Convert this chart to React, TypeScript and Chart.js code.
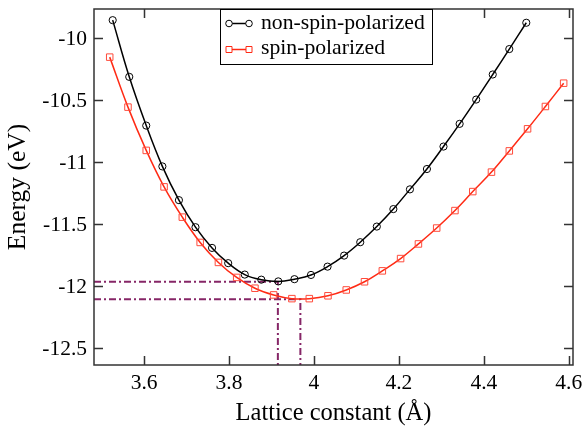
import React, { useEffect, useRef } from "react";
import { Chart, registerables } from "chart.js";

Chart.register(...registerables);

// ---- data ----
const nspX = [3.526, 3.565, 3.605, 3.643, 3.682, 3.721, 3.760, 3.798, 3.837, 3.876, 3.916, 3.954, 3.993, 4.032, 4.071, 4.109, 4.148, 4.187, 4.226, 4.266, 4.305, 4.343, 4.382, 4.421, 4.460, 4.500];
const nspE = [-9.860, -10.317, -10.710, -11.039, -11.311, -11.529, -11.696, -11.819, -11.911, -11.952, -11.966, -11.948, -11.914, -11.847, -11.758, -11.650, -11.524, -11.383, -11.224, -11.060, -10.879, -10.696, -10.500, -10.298, -10.093, -9.881];
const spX = [3.519, 3.562, 3.605, 3.647, 3.690, 3.732, 3.775, 3.818, 3.861, 3.905, 3.948, 3.989, 4.033, 4.076, 4.119, 4.161, 4.204, 4.246, 4.289, 4.332, 4.374, 4.418, 4.460, 4.503, 4.545, 4.588];
const spE = [-10.158, -10.561, -10.910, -11.204, -11.448, -11.652, -11.813, -11.934, -12.021, -12.075, -12.105, -12.105, -12.082, -12.035, -11.969, -11.881, -11.782, -11.664, -11.536, -11.395, -11.242, -11.085, -10.914, -10.736, -10.556, -10.368];

// equilibrium markers (lattice constant, energy)
const nspMin = [3.915, -11.969];
const spMin = [3.968, -12.11];

const xTicks = [3.6, 3.8, 4, 4.2, 4.4, 4.6];
const yTicks = [-12.5, -12, -11.5, -11, -10.5, -10];
const xRange = [3.482, 4.61];
const yRange = [-12.64, -9.77];

const seriesLabels = ["non-spin-polarized", "spin-polarized"];
const xTitle = "Lattice constant (Å)";
const yTitle = "Energy (eV)";

const SERIF = '"Liberation Serif", "Times New Roman", serif';
const RED = "#ff2a14";
const PURPLE = "#862667";

const framePlugin = {
  id: "frameAndLegend",
  afterDatasetsDraw(chart: any) {
    const { ctx, chartArea, scales } = chart;
    const { left, right, top, bottom } = chartArea;
    const xs = scales.x;
    const ys = scales.y;
    ctx.save();
    // frame
    ctx.strokeStyle = "#333";
    ctx.lineWidth = 1.5;
    ctx.strokeRect(left, top, right - left, bottom - top);
    // inward ticks on all four sides
    const L = 9;
    ctx.beginPath();
    xTicks.forEach((v) => {
      const px = Math.round(xs.getPixelForValue(v)) + 0.5;
      ctx.moveTo(px, bottom);
      ctx.lineTo(px, bottom - L);
      ctx.moveTo(px, top);
      ctx.lineTo(px, top + L);
    });
    yTicks.forEach((v) => {
      const py = Math.round(ys.getPixelForValue(v)) + 0.5;
      ctx.moveTo(left, py);
      ctx.lineTo(left + L, py);
      ctx.moveTo(right, py);
      ctx.lineTo(right - L, py);
    });
    ctx.stroke();

    // legend box
    const bx = 220, by = top, bw = 212, bh = 55;
    ctx.fillStyle = "#fff";
    ctx.fillRect(bx, by, bw, bh);
    ctx.strokeStyle = "#000";
    ctx.lineWidth = 1;
    ctx.strokeRect(bx + 0.5, by + 0.5, bw, bh);

    const rows = [
      { y: 23.5, base: 28.7, color: "#000", style: "circle" },
      { y: 49.5, base: 54, color: RED, style: "rect" },
    ];
    rows.forEach((r, i) => {
      const x1 = 229, x2 = 249;
      ctx.strokeStyle = r.color;
      ctx.lineWidth = 1.5;
      ctx.beginPath();
      ctx.moveTo(x1, r.y);
      ctx.lineTo(x2, r.y);
      ctx.stroke();
      ctx.lineWidth = 1;
      [x1, x2].forEach((cx) => {
        ctx.beginPath();
        ctx.fillStyle = "#fff";
        if (r.style === "circle") {
          ctx.arc(cx, r.y, 3.3, 0, Math.PI * 2);
        } else {
          ctx.rect(cx - 3, r.y - 3, 6, 6);
        }
        ctx.fill();
        ctx.stroke();
      });
      ctx.fillStyle = "#000";
      ctx.font = `21.7px ${SERIF}`;
      ctx.textAlign = "left";
      ctx.textBaseline = "alphabetic";
      ctx.fillText(seriesLabels[i], 261, r.base);
    });
    ctx.restore();
  },
};

export default function App() {
  const ref = useRef<HTMLCanvasElement | null>(null);
  useEffect(() => {
    if (!ref.current) return;
    const chart = new Chart(ref.current, {
      type: "line",
      data: {
        datasets: [
          {
            label: seriesLabels[0],
            data: nspX.map((x, i) => ({ x, y: nspE[i] })),
            borderColor: "#000",
            borderWidth: 1.5,
            pointStyle: "circle",
            pointRadius: 3.6,
            pointBorderWidth: 1,
            pointBorderColor: "#000",
            pointBackgroundColor: "rgba(0,0,0,0)",
            tension: 0.4,
          },
          {
            label: seriesLabels[1],
            data: spX.map((x, i) => ({ x, y: spE[i] })),
            borderColor: RED,
            borderWidth: 1.5,
            pointStyle: "rect",
            pointRadius: 4.6,
            pointBorderWidth: 1,
            pointBorderColor: "#ff4a3a",
            pointBackgroundColor: "rgba(0,0,0,0)",
            tension: 0.4,
          },
          {
            label: "nsp-eq",
            data: [
              { x: xRange[0], y: nspMin[1] },
              { x: nspMin[0], y: nspMin[1] },
              { x: nspMin[0], y: yRange[0] },
            ],
            borderColor: PURPLE,
            borderWidth: 2,
            borderDash: [7, 3, 2, 3],
            pointRadius: 0,
            tension: 0,
          },
          {
            label: "sp-eq",
            data: [
              { x: xRange[0], y: spMin[1] },
              { x: spMin[0], y: spMin[1] },
              { x: spMin[0], y: yRange[0] },
            ],
            borderColor: PURPLE,
            borderWidth: 2,
            borderDash: [7, 3, 2, 3],
            pointRadius: 0,
            tension: 0,
          },
        ],
      },
      options: {
        responsive: false,
        animation: false,
        layout: { padding: { left: 0, right: 11, top: 9, bottom: 0 } },
        plugins: {
          legend: { display: false },
          tooltip: { enabled: false },
        },
        scales: {
          x: {
            type: "linear",
            min: xRange[0],
            max: xRange[1],
            grid: { display: false, drawTicks: false },
            border: { display: false },
            afterBuildTicks: (s: any) => {
              s.ticks = xTicks.map((v) => ({ value: v }));
            },
            afterFit: (s: any) => {
              s.height = 61;
              s.paddingLeft = 0;
              s.paddingRight = 0;
              s.paddingTop = 0;
              s.paddingBottom = 0;
            },
            ticks: {
              font: { family: SERIF, size: 21.5, lineHeight: 1.2 },
              color: "#000",
              padding: 5,
              maxRotation: 0,
              autoSkip: false,
              callback: (v: any) => String(v),
            },
            title: {
              display: true,
              text: xTitle,
              color: "#000",
              font: { family: SERIF, size: 24.5, lineHeight: 1 },
              padding: 0,
            },
          },
          y: {
            type: "linear",
            min: yRange[0],
            max: yRange[1],
            grid: { display: false, drawTicks: false },
            border: { display: false },
            afterBuildTicks: (s: any) => {
              s.ticks = yTicks.map((v) => ({ value: v }));
            },
            afterFit: (s: any) => {
              s.width = 94;
              s.paddingLeft = 0;
              s.paddingRight = 0;
              s.paddingTop = 0;
              s.paddingBottom = 0;
            },
            ticks: {
              font: { family: SERIF, size: 21.5, lineHeight: 1.2 },
              color: "#000",
              padding: 7,
              labelOffset: 2,
              autoSkip: false,
              callback: (v: any) => String(v),
            },
            title: {
              display: true,
              text: yTitle,
              color: "#000",
              font: { family: SERIF, size: 25.5, lineHeight: 1 },
              padding: { top: 6, bottom: 0 },
            },
          },
        },
      },
      plugins: [framePlugin],
    });
    return () => chart.destroy();
  }, []);
  return (
    <canvas
      ref={ref}
      width={584}
      height={426}
      style={{ position: "absolute", left: 0, top: 0, width: 584, height: 426 }}
    />
  );
}
